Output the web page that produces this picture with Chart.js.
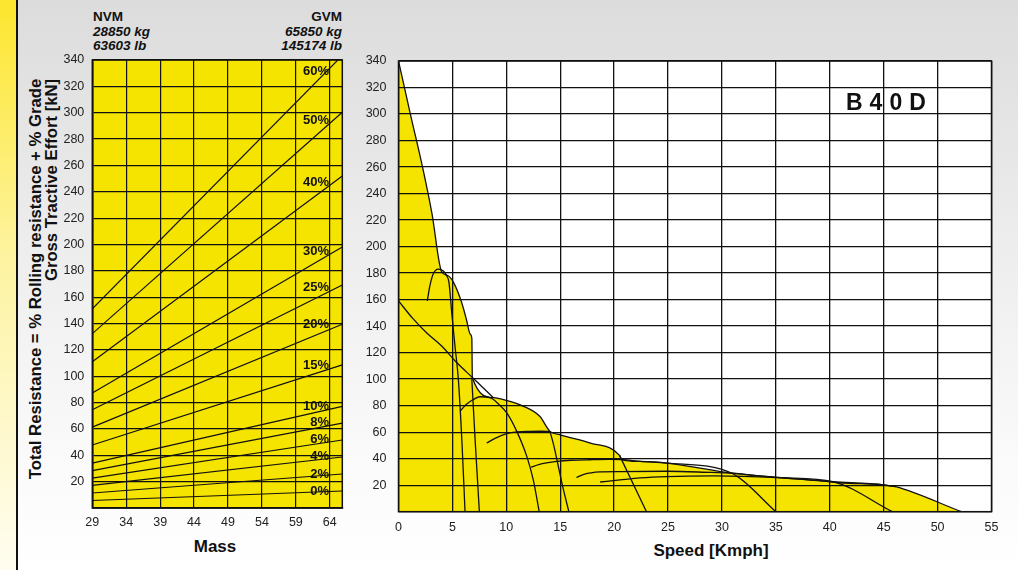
<!DOCTYPE html>
<html>
<head>
<meta charset="utf-8">
<script src="https://cdn.jsdelivr.net/npm/chart.js@4.4.1/dist/chart.umd.min.js"></script>
<style>
  body { margin:0; width:1018px; height:570px; overflow:hidden; position:relative;
    background: linear-gradient(to bottom, #dcdcdc 0%, #ececec 40%, #fafafa 80%, #ffffff 100%);
    font-family: 'Liberation Sans', Arial, Helvetica, sans-serif; color:#111; }
  #strip { position:absolute; left:0; top:0; width:16px; height:570px;
    background: linear-gradient(to bottom, #fde62e 0%, #fdf3a0 45%, #fffdf0 100%);
    border-right:2px solid #111; }
  canvas { position:absolute; top:0; }
  .hd { position:absolute; top:10px; font-weight:bold; font-size:13.5px; line-height:14.5px; }
  .hd i { font-style:italic; }
  .rot { position:absolute; white-space:nowrap; font-weight:bold; font-size:16.7px;
    transform: translate(-50%, -50%) rotate(-90deg); }
  .ttl { position:absolute; white-space:nowrap; font-weight:bold; font-size:17px; transform: translate(-50%, -50%); }
  #model { position:absolute; left:846px; top:89px; font-weight:bold; font-size:23px; letter-spacing:7px; z-index:2; }
</style>
</head>
<body>
<div id="strip"></div>
<div class="hd" style="left:93px;">NVM<br><i>28850 kg</i><br><i>63603 lb</i></div>
<div class="hd" style="right:676px; text-align:right;">GVM<br><i>65850 kg</i><br><i>145174 lb</i></div>
<div class="rot" style="left:36px; top:279px;">Total Resistance = % Rolling resistance + % Grade</div>
<div class="rot" style="left:52px; top:180px;">Gross Tractive Effort [kN]</div>
<div class="ttl" style="left:215px; top:547px;">Mass</div>
<div class="ttl" style="left:711px; top:551px;">Speed [Kmph]</div>
<div id="model">B40D</div>
<canvas id="massChart" width="360" height="570" style="left:0;"></canvas>
<canvas id="speedChart" width="658" height="570" style="left:360px;"></canvas>
<script>
// ── Left panel: total resistance vs mass ──────────────────────────────
const massTicks = [29, 34, 39, 44, 49, 54, 59, 64];
const grades   = ['0%', '2%', '4%', '6%', '8%', '10%', '15%', '20%', '25%', '30%', '40%', '50%', '60%'];
const atNVM    = [5.7, 11.4, 17.1, 22.7, 28.4, 34.0, 47.8, 61.4, 74.5, 87.2, 110.9, 132.3, 151.2];
const atGVM    = [12.9, 25.8, 38.7, 51.6, 64.4, 77.1, 108.6, 139.4, 169.2, 198.0, 251.9, 300.4, 343.4];
const gradeLabelAt = [12.4, 25.8, 39, 52, 64.7, 77.4, 108.5, 139, 167.5, 195, 247, 294.5, 331];

// ── Right panel: tractive effort vs speed ─────────────────────────────
const envS = [0, 1.1, 2.2, 3.1, 4.0, 4.6, 5.1, 5.85, 6.3, 6.65, 6.8, 6.85, 8.8, 10.0, 11.6, 13.1, 14.05, 15.0, 17.8, 20.5, 20.7, 22.4, 24.9, 30.9, 35.1, 40.0, 41.0, 45.0, 46.1, 52.2];
const envV = [340, 300, 261, 225, 181, 178, 173, 158, 145, 134, 131, 101, 86, 84, 79.5, 72, 60.6, 58, 51.8, 42.5, 39.3, 37.9, 36.7, 29.1, 25.9, 22.7, 21.8, 20.2, 18.9, 0];
const retS = [0, 1.3, 2.6, 4.0, 5.4, 6.88, 8.8];
const retV = [159, 146, 135, 125, 112.5, 101, 86];
const g1cS = [2.67, 2.9, 3.2, 3.69, 4.16, 4.47, 4.68, 4.96, 5.25, 5.55, 5.9, 6.17];
const g1cV = [159, 170, 179, 183, 181.5, 178, 173, 148, 124, 100, 50, 0];
const g1lS = [6.8, 7.1, 7.5];
const g1lV = [100, 55, 0];
const g2cS = [5.7, 6.3, 6.94, 7.56, 8.49, 9.3, 10.04, 10.97, 11.9, 12.5, 13.05];
const g2cV = [75.8, 81, 84.6, 86.7, 86, 81, 74.5, 60.6, 41.7, 24, 0];
const g2lS = [14.05, 14.4, 14.7, 15.2, 15.8];
const g2lV = [60.6, 50, 39, 20, 0];
const g3cS = [8.18, 9.0, 10.04, 11.0, 12.2, 13.2, 14.05];
const g3cV = [51.8, 55.5, 58.9, 60.2, 60.6, 60.7, 60.6];
const g3lS = [20.5, 23.0];
const g3lV = [42.5, 0];
const g4S = [12.3, 13.0, 14.7, 16.0, 17.8, 19.5, 20.7, 22.4, 24.9, 30.9, 35.0];
const g4V = [33.6, 35.5, 37.9, 38.8, 39.2, 39.4, 39.3, 37.9, 36.7, 29.1, 0];
const g5S = [16.5, 17.2, 18.7, 20.55, 24.9, 29.0, 30.9, 35.1, 40.3, 45.8];
const g5V = [25.8, 28.2, 30.0, 30.3, 30.5, 29.6, 29.1, 25.9, 22.6, 0];
const g6S = [18.7, 20.55, 22.4, 24.9, 29.2, 35.0, 40.3, 45.0, 46.1];
const g6V = [22.4, 24, 25.5, 26.5, 27, 25.7, 22.6, 20.2, 18.9];

const YELLOW = '#f5e300';
const INK = '#111';
const FONT = "'Liberation Sans', Arial, Helvetica, sans-serif";

const pts = (xs, ys) => xs.map((x, i) => ({ x, y: ys[i] }));

// plot background + frame
const plotFrame = {
  id: 'plotFrame',
  beforeDraw(chart, args, opts) {
    const { ctx, chartArea: a } = chart;
    ctx.save();
    ctx.fillStyle = opts.color;
    ctx.fillRect(a.left, a.top, a.right - a.left, a.bottom - a.top);
    ctx.restore();
  },
  afterDraw(chart) {
    const { ctx, chartArea: a } = chart;
    ctx.save();
    ctx.strokeStyle = INK;
    ctx.lineWidth = 1.5;
    ctx.strokeRect(a.left, a.top, a.right - a.left, a.bottom - a.top);
    ctx.restore();
  }
};

const gradeLabels = {
  id: 'gradeLabels',
  afterDatasetsDraw(chart) {
    const { ctx, scales: { x, y } } = chart;
    ctx.save();
    ctx.font = 'bold 13px ' + FONT;
    ctx.fillStyle = INK;
    ctx.textAlign = 'right';
    ctx.textBaseline = 'middle';
    grades.forEach((g, i) => ctx.fillText(g, x.getPixelForValue(63.9), y.getPixelForValue(gradeLabelAt[i])));
    ctx.restore();
  }
};

const tickFont = { family: FONT, size: 12.5 };

new Chart(document.getElementById('massChart'), {
  type: 'scatter',
  data: {
    datasets: grades.map((g, i) => ({
      label: g,
      data: [{ x: 29, y: atNVM[i] }, { x: 65.85, y: atGVM[i] }],
      showLine: true, borderColor: INK, borderWidth: 1.2, pointRadius: 0
    }))
  },
  options: {
    responsive: false, animation: false,
    layout: { padding: { left: 0, top: 60, right: 17.7, bottom: 0 } },
    plugins: { legend: { display: false }, tooltip: { enabled: false }, plotFrame: { color: YELLOW } },
    scales: {
      x: {
        type: 'linear', min: 29, max: 65.85,
        afterBuildTicks: s => { s.ticks = massTicks.map(v => ({ value: v })); },
        afterFit: s => { s.height = 62; },
        grid: { color: INK, lineWidth: 1.2, drawTicks: false },
        border: { color: INK, width: 1.5 },
        ticks: { padding: 7, color: '#222', font: tickFont, maxRotation: 0, autoSkip: false }
      },
      y: {
        min: 0, max: 340,
        afterFit: s => { s.width = 92.3; },
        grid: { color: INK, lineWidth: 1.2, drawTicks: false },
        border: { color: INK, width: 1.5 },
        ticks: { stepSize: 20, padding: 8, color: '#222', font: tickFont, callback: v => v === 0 ? '' : v }
      }
    }
  },
  plugins: [plotFrame, gradeLabels]
});

const line = (s, v, extra) => Object.assign({
  data: pts(s, v), showLine: true, borderColor: INK, borderWidth: 1.3,
  pointRadius: 0, cubicInterpolationMode: 'monotone', fill: false
}, extra || {});

new Chart(document.getElementById('speedChart'), {
  type: 'scatter',
  data: {
    datasets: [
      line(g1cS, g1cV), line(g1lS, g1lV, { cubicInterpolationMode: 'default', tension: 0 }),
      line(retS, retV),
      line(g2cS, g2cV), line(g2lS, g2lV),
      line(g3cS, g3cV), line(g3lS, g3lV, { tension: 0, cubicInterpolationMode: 'default' }),
      line(g4S, g4V), line(g5S, g5V), line(g6S, g6V),
      line(envS, envV, { fill: 'origin', backgroundColor: YELLOW })
    ]
  },
  options: {
    responsive: false, animation: false,
    layout: { padding: { left: 0, top: 61, right: 26.5, bottom: 0 } },
    plugins: { legend: { display: false }, tooltip: { enabled: false }, plotFrame: { color: '#ffffff' } },
    scales: {
      x: {
        type: 'linear', min: 0, max: 55,
        afterFit: s => { s.height = 58.3; },
        grid: { color: INK, lineWidth: 1.3, drawTicks: false, z: 1 },
        border: { display: false },
        ticks: { stepSize: 5, padding: 8, color: '#222', font: tickFont, maxRotation: 0, autoSkip: false }
      },
      y: {
        min: 0, max: 340,
        afterFit: s => { s.width = 38.5; },
        grid: { color: INK, lineWidth: 1.3, drawTicks: false, z: 1 },
        border: { display: false },
        ticks: { stepSize: 20, padding: 12, color: '#222', font: tickFont, callback: v => v === 0 ? '' : v }
      }
    }
  },
  plugins: [plotFrame]
});
</script>
</body>
</html>
